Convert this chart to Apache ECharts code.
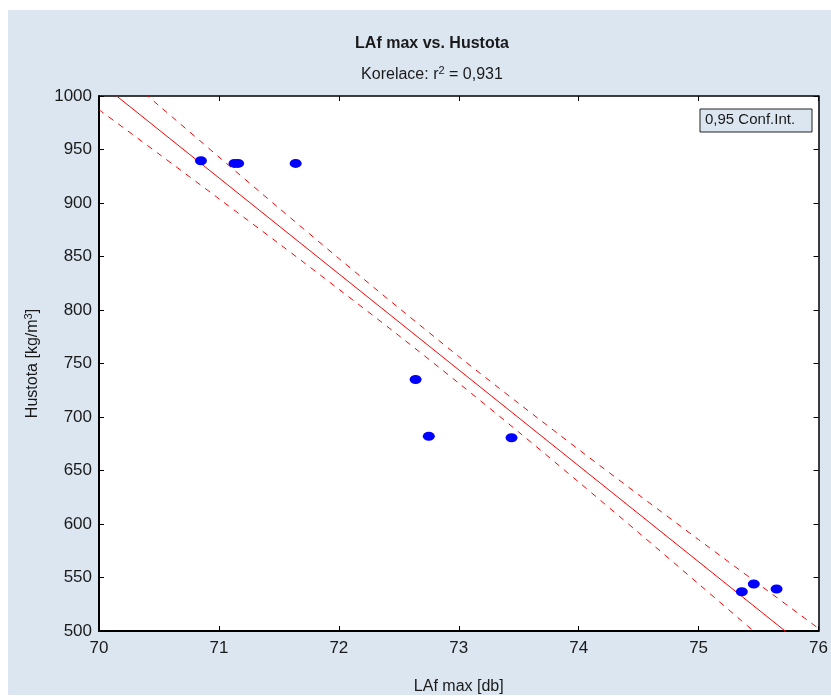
<!DOCTYPE html>
<html>
<head>
<meta charset="utf-8">
<script src="https://cdn.jsdelivr.net/npm/echarts@6/dist/echarts.min.js"></script>
<style>
html,body{margin:0;padding:0;background:#ffffff;}
#chart{width:831px;height:700px;}
</style>
</head>
<body>
<div id="chart"></div>
<script>
// ---- data ----
const titleText = 'LAf max vs. Hustota';
const subtitleMain = 'Korelace: r';
const subtitleSup = '2';
const subtitleTail = ' = 0,931';
const xName = 'LAf max [db]';
const yNameMain = 'Hustota [kg/m';
const yNameSup = '3';
const yNameTail = ']';
const legendText = '0,95 Conf.Int.';

const xMin = 70, xMax = 76, xStep = 1;
const yMin = 500, yMax = 1000, yStep = 50;

// observed points
const pointsX = [70.85, 71.13, 71.16, 71.64, 72.64, 72.75, 73.44, 75.36, 75.46, 75.65];
const pointsY = [939.5, 937, 937, 937, 735, 682, 680.6, 536.7, 543.9, 539.2];

// regression line
const fitX = [70, 76];
const fitY = [1013.2, 475.0];

// 0.95 confidence band
const bandX     = [70, 70.5, 71, 71.5, 72, 72.5, 73, 73.5, 74, 74.5, 75, 75.5, 76];
const bandUpper = [1039.2, 991.0, 943.0, 895.3, 848.2, 801.9, 756.6, 712.7, 669.6, 627.3, 585.4, 543.9, 502.4];
const bandLower = [987.2, 945.8, 904.0, 862.1, 819.4, 776.1, 731.6, 685.9, 639.2, 591.9, 544.0, 495.9, 447.6];

// ---- chart ----
const zip = (a, b) => a.map((v, i) => [v, b[i]]);
const FONT = "'Liberation Sans', Arial, sans-serif";
const TXT = '#1a1a1a';
const chart = echarts.init(document.getElementById('chart'), null, {renderer: 'canvas'});

const axisCommon = {
  type: 'value',
  axisLine: {show: true, onZero: false, lineStyle: {color: '#000', width: 2}},
  axisTick: {show: true, inside: true, length: 5, lineStyle: {color: '#000', width: 1}},
  splitLine: {show: false}
};

const richSup = {
  a: {fontFamily: FONT, fontSize: 16, fontWeight: 'normal', color: TXT, lineHeight: 20},
  s: {fontFamily: FONT, fontSize: 11, fontWeight: 'normal', color: TXT, verticalAlign: 'top', lineHeight: 20, padding: [0, 0, 6, 0]}
};

chart.setOption({
  animation: false,
  backgroundColor: '#ffffff',
  graphic: [
    {type: 'rect', z: -10, shape: {x: 8, y: 10, width: 823, height: 685}, style: {fill: '#dce6f1'}},
    {type: 'rect', z: 100, shape: {x: 700, y: 109, width: 112, height: 23},
      style: {fill: '#dce6f1', stroke: '#222', lineWidth: 1}},
    {type: 'text', z: 101, left: 705, top: 112,
      style: {text: legendText, font: "15px " + FONT, fill: TXT}}
  ],
  title: [
    {text: titleText, left: 427, top: 31, textAlign: 'center',
      textStyle: {fontFamily: FONT, fontSize: 16, fontWeight: 'bold', color: TXT}},
    {text: '{a|' + subtitleMain + '}{s|' + subtitleSup + '}{a|' + subtitleTail + '}',
      left: 427, top: 60, textAlign: 'center',
      textStyle: {fontWeight: 'normal', rich: richSup}}
  ],
  grid: {left: 99, right: 9, top: 96, bottom: 69, show: true, backgroundColor: '#ffffff', borderWidth: 0},
  xAxis: [
    Object.assign({}, axisCommon, {
      position: 'bottom', min: xMin, max: xMax, interval: xStep,
      name: xName, nameLocation: 'middle', nameGap: 48,
      nameTextStyle: {fontFamily: FONT, fontSize: 16, color: TXT},
      axisLabel: {fontFamily: FONT, fontSize: 17, color: TXT, margin: 9,
        showMaxLabel: true, showMinLabel: true}
    }),
    Object.assign({}, axisCommon, {
      position: 'top', min: xMin, max: xMax, interval: xStep,
      axisLine: {show: true, onZero: false, lineStyle: {color: '#000', width: 1.5}},
      axisLabel: {show: false}
    })
  ],
  yAxis: [
    Object.assign({}, axisCommon, {
      position: 'left', min: yMin, max: yMax, interval: yStep,
      name: '{a|' + yNameMain + '}{s|' + yNameSup + '}{a|' + yNameTail + '}',
      nameLocation: 'middle', nameGap: 56, nameRotate: 90,
      nameTextStyle: {rich: richSup},
      axisLabel: {fontFamily: FONT, fontSize: 17, color: TXT, margin: 7,
        formatter: (v) => String(v)}
    }),
    Object.assign({}, axisCommon, {
      position: 'right', min: yMin, max: yMax, interval: yStep,
      axisLine: {show: true, onZero: false, lineStyle: {color: '#000', width: 1.5}},
      axisLabel: {show: false}
    })
  ],
  series: [
    {type: 'line', data: zip(fitX, fitY), showSymbol: false, symbol: 'none', clip: true,
      lineStyle: {color: '#ff0000', width: 1}, z: 3},
    {type: 'line', data: zip(bandX, bandUpper), showSymbol: false, symbol: 'none', clip: true,
      smooth: 0.3, lineStyle: {color: '#ff0000', width: 1, type: [6, 6]}, z: 3},
    {type: 'line', data: zip(bandX, bandLower), showSymbol: false, symbol: 'none', clip: true,
      smooth: 0.3, lineStyle: {color: '#ff0000', width: 1, type: [6, 6]}, z: 3},
    {type: 'scatter', data: zip(pointsX, pointsY), symbol: 'circle', symbolSize: [12, 9],
      itemStyle: {color: '#0000ff', opacity: 1}, z: 5}
  ]
});
</script>
</body>
</html>
